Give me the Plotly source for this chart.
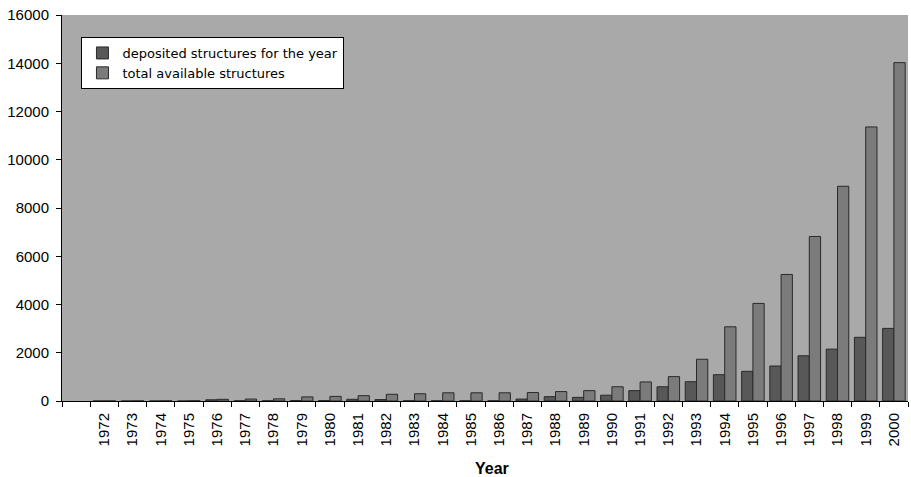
import plotly.graph_objects as go

years = [" "] + [str(y) for y in range(1972, 2001)]
deposited = [None, 0, 0, 0, 0, 50, 10, 10, 20, 20, 70, 60, 10, 10, 10, 10, 80, 180,
             150, 240, 430, 590, 800, 1090, 1230, 1450, 1875, 2150, 2640, 3010]
total = [None, 3, 5, 8, 10, 70, 80, 90, 170, 190, 220, 280, 300, 340, 340, 340, 350, 390,
         430, 590, 790, 1010, 1730, 3075, 4045, 5245, 6820, 8900, 11360, 14025]
y_ticks = list(range(0, 16001, 2000))

fig = go.Figure()
fig.add_trace(go.Bar(x=years, y=deposited, name="deposited structures for the year",
                     marker=dict(color="#585858", line=dict(color="#2a2a2a", width=1))))
fig.add_trace(go.Bar(x=years, y=total, name="total available structures",
                     marker=dict(color="#7b7b7b", line=dict(color="#2a2a2a", width=1))))

fig.update_layout(
    width=911, height=477,
    margin=dict(l=62, r=3, t=15, b=76),
    paper_bgcolor="white",
    plot_bgcolor="#a9a9a9",
    barmode="group", bargap=0.2, bargroupgap=0,
    font=dict(family="Liberation Sans, Arial, sans-serif", size=15, color="black"),
    legend=dict(x=0.023, y=0.943, xanchor="left", yanchor="top",
                bgcolor="white", bordercolor="black", borderwidth=1,
                font=dict(size=13, family="DejaVu Sans"), tracegroupgap=0, itemwidth=30),
    showlegend=True,
    annotations=[dict(text="<b>Year</b>", x=0.508, y=-0.1736, xref="paper", yref="paper",
                      xanchor="center", yanchor="middle", showarrow=False,
                      font=dict(size=16, family="Liberation Sans, Arial"))],
)
fig.update_xaxes(type="category", categoryorder="array", categoryarray=years,
                 tickson="boundaries", ticks="outside", ticklen=5, tickcolor="black",
                 showline=True, linecolor="black", linewidth=1, tickangle=-90,
                 showgrid=False, tickfont=dict(size=15), automargin=False,
                 ticklabelstandoff=5)
fig.update_yaxes(range=[0, 16000], tickvals=y_ticks, tickformat="d", ticks="outside", ticklen=5,
                 tickcolor="black", showline=True, linecolor="black", linewidth=1,
                 showgrid=False, zeroline=False, tickfont=dict(size=15), automargin=False,
                 ticklabelstandoff=4)

fig.write_html("out.html", config={"displayModeBar": False},
               post_script="document.body.style.margin='0';document.body.style.overflow='hidden';")
